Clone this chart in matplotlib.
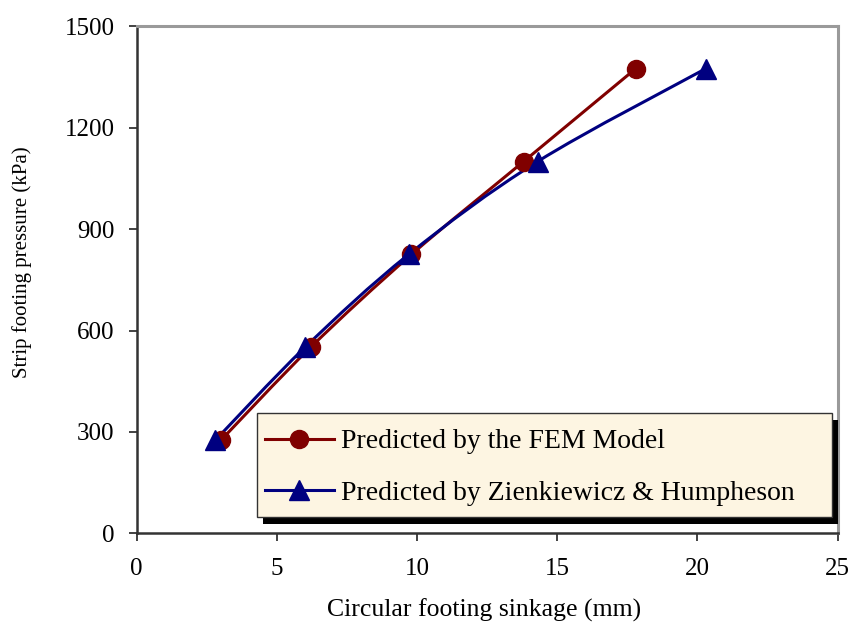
import numpy as np
import matplotlib
matplotlib.use("Agg")
import matplotlib.pyplot as plt
from matplotlib.path import Path
from matplotlib.patches import PathPatch, Rectangle
from matplotlib.lines import Line2D

plt.rcParams['font.family'] = ['Liberation Serif', 'DejaVu Serif']

# data
pressure = [275, 550, 825, 1100, 1375]
fem_sinkage = [3.0, 6.2, 9.8, 13.8, 17.8]
zh_sinkage = [2.8, 6.0, 9.7, 14.3, 20.3]

labels = ['Predicted by the FEM Model',
          'Predicted by Zienkiewicz & Humpheson']
colors = ['#800000', '#000080']
markers = ['o', '^']
msizes = [13, 14]


def smooth_path(x, y):
    # Excel style smoothed line: cubic bezier through every point
    p = np.column_stack([x, y]).astype(float)
    n = len(p)
    verts = [p[0]]
    codes = [Path.MOVETO]
    for i in range(n - 1):
        p0 = p[max(i - 1, 0)]
        p1 = p[i]
        p2 = p[i + 1]
        p3 = p[min(i + 2, n - 1)]
        c1 = p1 + (p2 - p0) / 6.0
        c2 = p2 - (p3 - p1) / 6.0
        verts += [c1, c2, p2]
        codes += [Path.CURVE4] * 3
    return Path(verts, codes)


fig = plt.figure(figsize=(8.5, 6.28), dpi=100)
ax = fig.add_axes([0.1608, 0.1508, 0.8247, 0.8073])

series = [fem_sinkage, zh_sinkage]
for xs, c, m, ms in zip(series, colors, markers, msizes):
    ax.add_patch(PathPatch(smooth_path(xs, pressure), facecolor='none',
                           edgecolor=c, lw=2.2, zorder=3))
    ax.plot(xs, pressure, linestyle='none', marker=m, ms=ms, color=c,
            zorder=4)

ax.set_xlim(0, 25)
ax.set_ylim(0, 1500)
ax.set_xticks(np.arange(0, 26, 5))
ax.set_yticks(np.arange(0, 1501, 300))
ax.tick_params(direction='out', length=6, width=1.2, labelsize=18,
               colors='#222222', labelcolor='black')
ax.tick_params(axis='y', pad=10)
ax.tick_params(axis='x', pad=12)

for s in ['left', 'bottom']:
    ax.spines[s].set_color('#333333')
    ax.spines[s].set_linewidth(1.8)
for s in ['top', 'right']:
    ax.spines[s].set_color('#9a9a9a')
    ax.spines[s].set_linewidth(2.2)

ax.set_xlabel('Circular footing sinkage (mm)', fontsize=18.5)
ax.set_ylabel('Strip footing pressure (kPa)', fontsize=15)
ax.xaxis.set_label_coords(0.495, -0.128)
ax.yaxis.set_label_coords(-0.149, 0.535)

# legend box with black drop shadow
lx0, lx1 = 257, 832
ly0, ly1 = 413, 517
W, H = 850, 628
shadow = Rectangle(((lx0 + 6) / W, (H - ly1 - 7) / H), (lx1 - lx0) / W,
                   (ly1 - ly0) / H, transform=fig.transFigure,
                   facecolor='black', edgecolor='none', zorder=5)
frame = Rectangle((lx0 / W, (H - ly1) / H), (lx1 - lx0) / W,
                  (ly1 - ly0) / H, transform=fig.transFigure,
                  facecolor='#fdf5e2', edgecolor='#333333', lw=1, zorder=6)
fig.add_artist(shadow)
fig.add_artist(frame)

handles = [Line2D([], [], color=c, lw=2.2, marker=m, ms=ms)
           for c, m, ms in zip(colors, markers, msizes)]
leg = fig.legend(handles, labels, loc='center left',
                 bbox_to_anchor=((lx0 + 2) / W,
                                 (H - (ly0 + ly1) / 2 - 2.5) / H),
                 frameon=False, fontsize=20, handlelength=2.5,
                 handletextpad=0.25, labelspacing=0.95, borderpad=0.2,
                 borderaxespad=0)
leg.set_zorder(7)

fig.savefig('out.png', dpi=100)
